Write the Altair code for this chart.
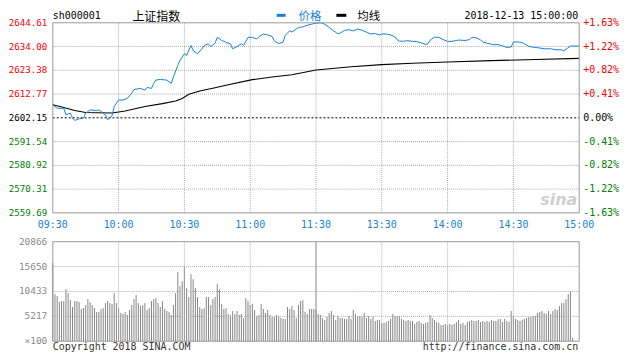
import altair as alt
import pandas as pd

# ---------------- data ----------------
PREV_CLOSE = 2602.15
PRICE_LOW, PRICE_HIGH = 2559.69, 2644.61
VOL_MAX = 20866

price_min = [0, 2, 5, 6, 8, 9, 10, 12, 14, 15, 17, 20, 21, 23, 24, 25, 27, 28, 30, 32,
             34, 36, 37, 40, 42, 43, 45, 46, 47, 49, 52, 54, 55, 57, 58, 60, 61, 63, 64, 66,
             68, 69, 71, 72, 74, 75, 77, 79, 81, 82, 84, 86, 87, 89, 91, 93, 94, 96, 98, 100,
             101, 103, 105, 106, 108, 109, 111, 112, 114, 116, 118, 120, 122, 124, 126, 128, 130, 131, 133, 135,
             137, 139, 141, 143, 145, 147, 149, 150, 152, 154, 156, 157, 158, 160, 162, 164, 166, 168, 170, 171,
             172, 174, 176, 178, 180, 182, 185, 188, 190, 191, 193, 195, 196, 198, 201, 203, 205, 207, 209, 210,
             212, 214, 215, 217, 219, 221, 224, 227, 229, 232, 233, 234, 236, 240]
price_val = [2607.9, 2606.4, 2606.4, 2603.5, 2604.2, 2602.0, 2601.0, 2601.7, 2602.0, 2604.2,
             2605.7, 2605.4, 2605.7, 2604.2, 2603.5, 2601.3, 2603.0, 2607.2, 2610.1, 2610.1,
             2610.9, 2613.1, 2614.8, 2615.3, 2614.5, 2615.7, 2615.3, 2617.5, 2619.0, 2619.3,
             2619.0, 2617.5, 2620.4, 2625.6, 2627.8, 2630.8, 2630.0, 2634.5, 2632.2, 2630.8,
             2633.0, 2634.5, 2635.2, 2634.0, 2635.5, 2638.1, 2636.7, 2635.9, 2635.2, 2633.0,
             2634.0, 2635.2, 2634.5, 2638.1, 2638.1, 2637.4, 2638.4, 2639.6, 2639.2, 2638.5,
             2636.5, 2635.3, 2636.0, 2639.0, 2641.0, 2640.5, 2641.8, 2642.5, 2642.8, 2643.5,
             2644.0, 2644.4, 2644.61, 2644.0, 2642.5, 2641.0, 2639.7, 2640.0, 2641.2, 2641.5,
             2641.0, 2641.8, 2641.3, 2640.4, 2639.6, 2639.8, 2639.2, 2639.6, 2639.6, 2639.2,
             2638.3, 2637.0, 2636.4, 2636.4, 2636.6, 2636.3, 2636.2, 2635.7, 2634.9, 2635.2,
             2636.8, 2638.2, 2638.1, 2637.1, 2636.3, 2636.3, 2636.9, 2636.7, 2637.1, 2638.1,
             2637.9, 2637.0, 2636.0, 2635.5, 2634.8, 2634.9, 2634.3, 2633.6, 2633.8, 2636.0,
             2636.1, 2635.7, 2635.2, 2634.1, 2633.7, 2633.5, 2633.0, 2633.0, 2632.6, 2632.5,
             2632.1, 2632.8, 2634.2, 2634.2]

avg_min = [0, 5, 10, 15, 20, 27, 33, 42, 50, 56, 59, 62, 67, 74, 80, 91, 100, 109, 120,
           136, 150, 164, 180, 200, 220, 240]
avg_val = [2608.0, 2606.8, 2605.4, 2604.5, 2604.4, 2604.3, 2605.2, 2607.2, 2608.5, 2609.7,
           2610.8, 2612.7, 2614.1, 2615.6, 2616.9, 2619.2, 2620.4, 2621.4, 2623.5,
           2625.0, 2625.9, 2626.5, 2627.1, 2627.7, 2628.2, 2628.7]

# volume per minute (x100 shares), minute 0 .. 237
volume = [
    16350, 9880, 9460, 8210, 8420, 8420, 10920, 10090, 8630, 7170,
    8420, 8420, 8210, 6750, 6960, 7580, 8830, 8210, 7580, 6960,
    6120, 6120, 6750, 6960, 8000, 8420, 8000, 7790, 10090, 8000,
    6960, 5910, 5700, 6120, 5500, 6540, 7580, 8830, 9670, 8000,
    7370, 7580, 8000, 6540, 6960, 8420, 8830, 9040, 8000, 7170,
    8420, 6750, 6330, 6120, 5500, 7580, 10090, 14470, 11550, 12590,
    15720, 11130, 9250, 14050, 13010, 11130, 9250, 7170, 6750, 6960,
    9250, 9250, 7580, 8830, 9250, 11960, 10920, 7790, 6750, 6960,
    5700, 5500, 6330, 5700, 6330, 5500, 5700, 4870, 9040, 8420,
    7580, 7790, 6540, 5290, 5500, 7790, 6750, 5910, 6540, 5500,
    5080, 5080, 5500, 5290, 4870, 4660, 4660, 7170, 6750, 7370,
    6540, 4870, 7580, 8420, 8630, 6120, 5700, 6750, 6750, 6750,
    6540, 5700, 5500, 4870, 4450, 5080, 5910, 6330, 5500, 4450,
    5290, 4870, 4870, 4660, 4660, 5290, 4660, 6540, 5700, 5290,
    5290, 5080, 5910, 4870, 5290, 4660, 5080, 4240, 4450, 4450,
    3830, 3830, 4030, 4240, 4660, 5700, 5290, 5290,
    5290, 4660, 4450, 4240, 4450, 4240, 4240, 3620, 4030, 4240,
    3830, 3620, 3830, 4030, 5500, 4870, 4450, 4030, 3830, 3410,
    3410, 3620, 3410, 3620, 3410, 3620, 4030, 4450, 3620, 3830,
    3410, 4030, 4240, 4450, 4240, 4240, 4450, 4030, 4240, 4030,
    4240, 4030, 4450, 4240, 4240, 4590, 4660, 4030, 4660, 4240,
    4030, 6330, 5290, 4660, 4450, 4240, 4450, 4660, 4870, 5080,
    5080, 5290, 5290, 5910, 6120, 6330, 5910, 5700, 6330, 5700,
    6330, 6750, 6540, 7370, 8000, 8000, 8830, 9880, 10500, 700,
]

price_ticks = [2644.61, 2634.00, 2623.38, 2612.77, 2602.15, 2591.54, 2580.92, 2570.31, 2559.69]
pct_labels = ["+1.63%", "+1.22%", "+0.82%", "+0.41%", "0.00%", "-0.41%", "-0.82%", "-1.22%", "-1.63%"]
vol_ticks = [20866, 15650, 10433, 5217, 0]
vol_labels = ["20866", "15650", "10433", "5217", "\u00d7100"]
time_ticks = [0, 30, 60, 90, 120, 150, 180, 210, 240]
time_labels = ["09:30", "10:00", "10:30", "11:00", "11:30", "13:30", "14:00", "14:30", "15:00"]

# ---------------- style ----------------
W, H = 529, 320
TOP_H = 191
VOL_TOP = 220
BLUE = "#1683d5"
GRID = "#ababab"
FRAME = "#999999"
MONO = "DejaVu Sans Mono"
CJK = "Noto Sans CJK SC"

xs = alt.Scale(domain=[0, 240], nice=False, zero=False)
ps = alt.Scale(domain=[PRICE_LOW, PRICE_HIGH], range=[TOP_H, 0], nice=False, zero=False)
vs = alt.Scale(domain=[0, VOL_MAX], range=[H, VOL_TOP], nice=False, zero=False)


def lab_color(v):
    if abs(v - PREV_CLOSE) < 1e-6:
        return "#000000"
    return "#ff0000" if v > PREV_CLOSE else "#008000"


price_df = pd.DataFrame({"m": price_min, "p": price_val})
avg_df = pd.DataFrame({"m": avg_min, "p": avg_val})
vol_df = pd.DataFrame({"m": list(range(len(volume))), "v": volume})
ptick_df = pd.DataFrame({
    "v": price_ticks,
    "lab": [f"{v:.2f}" for v in price_ticks],
    "pct": pct_labels,
    "c": [lab_color(v) for v in price_ticks],
})
vtick_df = pd.DataFrame({"v": vol_ticks, "lab": vol_labels})
ttick_df = pd.DataFrame({"m": time_ticks, "lab": time_labels})
one = pd.DataFrame({"a": [0]})

inner_p = [v for v in price_ticks if v not in (PRICE_HIGH, PRICE_LOW, PREV_CLOSE)]
inner_t = [t for t in time_ticks if t not in (0, 240)]

layers = []

# top panel horizontal dotted grid
layers.append(alt.Chart(pd.DataFrame({"v": inner_p})).mark_rule(
    color=GRID, strokeDash=[1, 1], strokeWidth=1).encode(
    y=alt.Y("v:Q", scale=ps, axis=None), x=alt.value(0), x2=alt.value(W)))
# vertical dotted grid (top panel)
layers.append(alt.Chart(pd.DataFrame({"m": inner_t})).mark_rule(
    color=GRID, strokeDash=[1, 1], strokeWidth=1).encode(
    x=alt.X("m:Q", scale=xs, axis=None), y=alt.value(0), y2=alt.value(TOP_H)))
# previous close dashed line
layers.append(alt.Chart(pd.DataFrame({"v": [PREV_CLOSE]})).mark_rule(
    color="#000000", strokeDash=[2, 2], strokeWidth=1).encode(
    y=alt.Y("v:Q", scale=ps, axis=None), x=alt.value(0), x2=alt.value(W)))

# volume bars
layers.append(alt.Chart(vol_df).mark_rule(color="#858585", strokeWidth=1).encode(
    x=alt.X("m:Q", scale=xs, axis=None),
    y=alt.Y("v:Q", scale=vs, axis=None),
    y2=alt.datum(0)))
# volume grid
layers.append(alt.Chart(pd.DataFrame({"v": [15650, 10433, 5217]})).mark_rule(
    color=GRID, strokeDash=[1, 1], strokeWidth=1).encode(
    y=alt.Y("v:Q", scale=vs, axis=None), x=alt.value(0), x2=alt.value(W)))
layers.append(alt.Chart(pd.DataFrame({"m": [t for t in inner_t if t != 120]})).mark_rule(
    color=GRID, strokeDash=[1, 1], strokeWidth=1).encode(
    x=alt.X("m:Q", scale=xs, axis=None), y=alt.value(VOL_TOP), y2=alt.value(H)))
layers.append(alt.Chart(pd.DataFrame({"m": [120]})).mark_rule(
    color=FRAME, strokeWidth=1.2).encode(
    x=alt.X("m:Q", scale=xs, axis=None), y=alt.value(VOL_TOP), y2=alt.value(H)))

# lines
layers.append(alt.Chart(avg_df).mark_line(color="#000000", strokeWidth=1.1).encode(
    x=alt.X("m:Q", scale=xs, axis=None), y=alt.Y("p:Q", scale=ps, axis=None)))
layers.append(alt.Chart(price_df).mark_line(color=BLUE, strokeWidth=1).encode(
    x=alt.X("m:Q", scale=xs, axis=None), y=alt.Y("p:Q", scale=ps, axis=None)))

# frames
for y0, y1 in [(0, TOP_H), (VOL_TOP, H)]:
    layers.append(alt.Chart(one).mark_rect(fillOpacity=0, stroke=FRAME, strokeWidth=1).encode(
        x=alt.value(0), x2=alt.value(W), y=alt.value(y0), y2=alt.value(y1)))

# axis labels
layers.append(alt.Chart(ptick_df).mark_text(
    align="right", baseline="middle", font=MONO, fontSize=9.2).encode(
    x=alt.value(-5.5), y=alt.Y("v:Q", scale=ps, axis=None),
    text="lab:N", color=alt.Color("c:N", scale=None)))
layers.append(alt.Chart(ptick_df).mark_text(
    align="left", baseline="middle", font=MONO, fontSize=10).encode(
    x=alt.value(W + 4), y=alt.Y("v:Q", scale=ps, axis=None),
    text="pct:N", color=alt.Color("c:N", scale=None)))
layers.append(alt.Chart(vtick_df).mark_text(
    align="right", baseline="middle", font=MONO, fontSize=9.5, color="#8a8a8a").encode(
    x=alt.value(-5.5), y=alt.Y("v:Q", scale=vs, axis=None), text="lab:N"))
layers.append(alt.Chart(ttick_df).mark_text(
    align="center", baseline="middle", font=MONO, fontSize=10, color=BLUE).encode(
    x=alt.X("m:Q", scale=xs, axis=None), y=alt.value(TOP_H + 12.5), text="lab:N"))

# header texts
def txt(s, x, y, **kw):
    return alt.Chart(one).mark_text(text=s, baseline="middle", **kw).encode(
        x=alt.value(x), y=alt.value(y))

layers.append(txt("sh000001", 0, -7, align="left", font=MONO, fontSize=10, color="#000000"))
layers.append(txt("上证指数", 80, -5.5, align="left", font=CJK, fontSize=12, color="#000000"))
layers.append(alt.Chart(one).mark_rule(color=BLUE, strokeWidth=3).encode(
    x=alt.value(225), x2=alt.value(234), y=alt.value(-7.5)))
layers.append(txt("价格", 247, -5.5, align="left", font=CJK, fontSize=11.5, color=BLUE))
layers.append(alt.Chart(one).mark_rule(color="#000000", strokeWidth=3).encode(
    x=alt.value(285), x2=alt.value(295), y=alt.value(-7.5)))
layers.append(txt("均线", 306, -5.5, align="left", font=CJK, fontSize=11.5, color="#000000"))
layers.append(txt("2018-12-13 15:00:00", W - 1, -7, align="right", font=MONO, fontSize=10, color="#000000"))
layers.append(txt("sina", W - 2, 178, align="right", font="DejaVu Sans", fontSize=16,
                  fontStyle="italic", fontWeight="bold", color="#cfcfcf"))
layers.append(txt("Copyright 2018 SINA.COM", 0, H + 6, align="left", font=MONO, fontSize=10, color="#333333"))
layers.append(txt("http://finance.sina.com.cn", W - 1, H + 6, align="right", font=MONO, fontSize=10, color="#333333"))

chart = alt.layer(*layers).resolve_scale(y="independent", color="independent").properties(
    width=W, height=H,
    autosize=alt.AutoSizeParams(type="none"),
    padding={"left": 45, "top": 14, "right": 42, "bottom": 16},
    background="#ffffff",
).configure_view(stroke=None)

chart.save("out.html", embed_options={"renderer": "svg", "actions": False})
